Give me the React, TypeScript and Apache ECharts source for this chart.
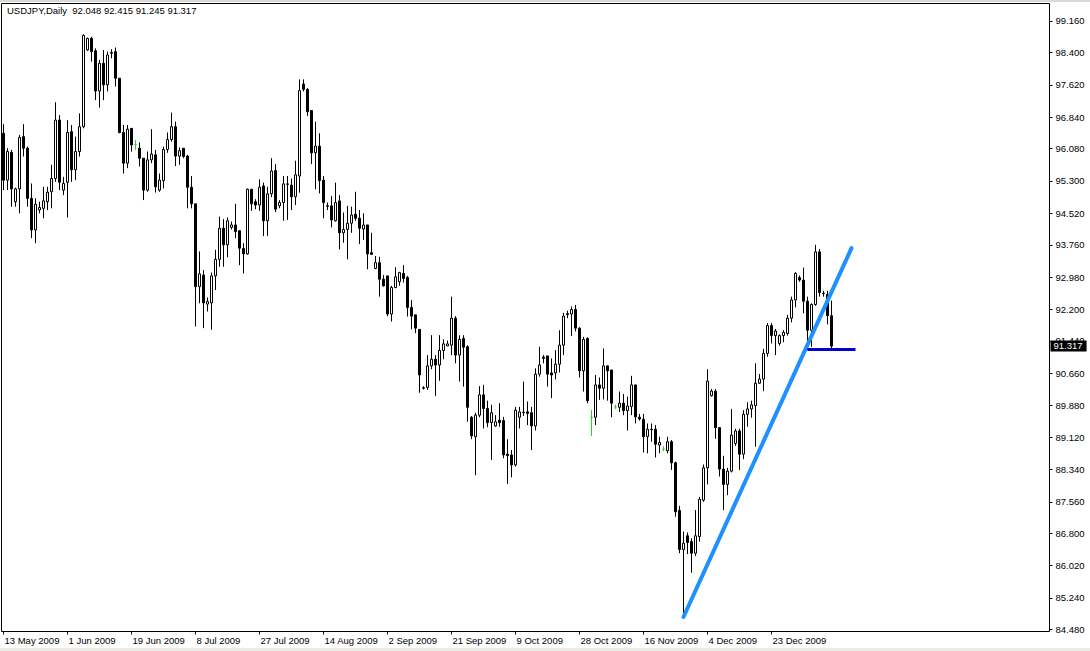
import React, { useEffect, useRef } from "react";
import * as echarts from "echarts";

const symbol = "USDJPY";
const period = "Daily";
const firstDate = "2009-05-13";
const totalSlots = 262;
const labelEvery = 16;

const opens = [
  96.45, 95.32, 95.99, 94.80, 95.11, 96.37, 96.09, 94.88, 94.12, 94.60,
  94.64, 94.80, 95.04, 95.36, 96.77, 95.08, 95.27, 96.49, 95.57, 96.01,
  96.61, 98.46, 98.74, 98.44, 97.47, 98.14, 97.62, 98.38, 98.42, 97.78,
  96.47, 95.73, 96.57, 96.18, 96.09, 95.85, 95.08, 95.81, 95.93, 95.08,
  95.31, 96.06, 96.30, 96.61, 95.90, 96.09, 95.90, 95.15, 94.75, 92.75,
  93.03, 92.33, 92.36, 93.01, 93.41, 94.16, 93.76, 94.18, 94.24, 94.10,
  93.67, 93.54, 95.10, 94.80, 94.72, 95.18, 94.34, 94.99, 95.55, 94.70,
  94.78, 95.23, 95.20, 94.92, 95.42, 97.64, 97.51, 97.00, 95.98, 96.14,
  95.32, 94.70, 94.70, 94.34, 94.82, 94.05, 94.13, 94.28, 94.50, 94.40,
  94.14, 94.24, 93.57, 93.19, 93.33, 92.93, 93.01, 92.09, 92.73, 92.87,
  93.07, 92.97, 92.25, 92.07, 91.72, 90.31, 90.32, 90.84, 91.00, 90.86,
  91.21, 91.32, 91.34, 91.99, 91.10, 91.50, 91.30, 89.60, 89.13, 89.65,
  90.14, 89.81, 89.47, 89.39, 89.53, 89.52, 88.71, 88.69, 88.45, 89.60,
  89.71, 89.73, 89.71, 89.39, 90.64, 91.05, 91.08, 90.67, 90.67, 90.88,
  91.34, 92.10, 92.09, 92.20, 91.75, 90.72, 91.50, 89.60, 89.60, 90.38,
  90.30, 90.84, 90.74, 89.85, 89.84, 89.94, 89.76, 89.86, 90.38, 89.60,
  89.55, 89.13, 89.31, 89.31, 88.93, 88.83, 88.79, 89.01, 88.50, 87.35,
  86.41, 86.74, 86.60, 86.32, 86.72, 87.60, 88.38, 90.12, 90.23, 89.35,
  88.35, 87.98, 88.30, 88.97, 89.27, 88.71, 89.67, 89.80, 89.88, 90.42,
  90.52, 91.14, 91.81, 91.57, 91.38, 91.57, 91.62, 91.99, 92.43, 92.97,
  92.91, 92.40, 91.70, 92.32, 93.59, 92.59, 92.56, 92.048,
];
const highs = [
  96.67, 96.09, 96.05, 95.14, 96.41, 96.67, 96.13, 95.24, 94.88, 94.80,
  95.16, 95.16, 95.69, 97.20, 96.89, 95.40, 96.77, 96.65, 96.37, 96.93,
  98.84, 98.76, 98.78, 98.50, 98.22, 98.46, 98.42, 98.48, 98.52, 97.78,
  96.65, 96.65, 96.57, 96.29, 96.23, 95.85, 96.01, 96.55, 96.05, 95.48,
  96.13, 96.47, 96.95, 96.73, 96.11, 96.09, 95.93, 95.42, 94.75, 93.60,
  93.15, 92.49, 93.09, 93.64, 94.44, 94.38, 94.42, 94.32, 94.75, 94.10,
  93.80, 95.12, 95.10, 94.86, 95.34, 95.26, 95.16, 95.85, 95.71, 94.84,
  95.42, 95.42, 95.36, 95.79, 97.75, 97.75, 97.54, 97.01, 96.73, 96.45,
  95.42, 94.78, 94.94, 95.26, 94.96, 94.54, 94.70, 94.68, 95.04, 94.60,
  94.52, 94.24, 94.05, 93.49, 93.47, 93.03, 93.01, 92.77, 93.22, 93.11,
  93.27, 93.01, 92.43, 92.07, 91.72, 90.35, 91.10, 91.58, 91.10, 91.58,
  91.48, 91.45, 92.51, 92.04, 91.58, 91.58, 91.34, 89.63, 89.71, 90.35,
  90.38, 90.00, 89.90, 89.65, 89.94, 89.61, 89.07, 88.81, 89.85, 89.85,
  90.46, 89.98, 89.85, 90.78, 91.30, 91.10, 91.08, 91.02, 91.22, 91.70,
  92.12, 92.17, 92.27, 92.31, 91.77, 91.54, 91.53, 89.78, 90.62, 90.56,
  91.26, 90.84, 90.74, 89.90, 90.22, 90.16, 90.10, 90.60, 90.38, 89.68,
  89.68, 89.45, 89.45, 89.41, 89.13, 88.90, 89.13, 89.05, 88.53, 87.46,
  86.84, 86.82, 86.68, 87.36, 87.68, 88.46, 90.76, 90.28, 90.28, 89.35,
  88.67, 88.38, 89.80, 89.32, 89.32, 89.77, 89.96, 90.00, 90.90, 90.64,
  91.25, 91.87, 91.87, 91.73, 91.60, 91.70, 92.07, 92.51, 93.10, 93.02,
  93.21, 92.51, 92.35, 93.76, 93.66, 92.65, 92.65, 92.415,
];
const lows = [
  95.08, 95.08, 94.68, 94.68, 94.52, 95.89, 94.68, 93.92, 93.80, 94.52,
  94.40, 94.60, 94.64, 95.28, 95.08, 94.96, 94.42, 95.28, 95.32, 95.89,
  96.57, 98.44, 98.18, 97.25, 97.07, 97.25, 97.46, 98.26, 97.58, 96.45,
  95.48, 95.61, 96.01, 96.05, 95.65, 94.84, 95.04, 95.73, 95.02, 95.04,
  95.12, 95.98, 96.25, 95.66, 95.69, 95.85, 94.64, 94.64, 91.79, 92.35,
  91.75, 92.15, 91.71, 92.67, 93.23, 93.23, 93.46, 94.13, 93.92, 93.27,
  93.07, 93.52, 94.58, 94.62, 94.58, 93.97, 93.97, 94.91, 94.55, 94.64,
  94.34, 94.36, 94.60, 94.72, 95.02, 97.46, 96.87, 95.71, 95.10, 95.00,
  94.40, 94.60, 94.18, 94.32, 93.65, 93.81, 93.41, 94.05, 94.34, 93.78,
  93.88, 93.17, 93.52, 93.17, 92.51, 92.75, 92.04, 91.91, 92.71, 92.77,
  92.85, 92.03, 91.72, 91.63, 90.19, 90.27, 90.26, 90.76, 90.11, 90.48,
  91.00, 91.32, 91.10, 90.90, 90.46, 90.34, 89.49, 89.07, 88.20, 89.60,
  89.33, 89.36, 88.57, 89.37, 89.37, 88.61, 87.99, 88.15, 88.41, 89.33,
  89.63, 89.41, 88.81, 89.28, 90.58, 90.90, 90.34, 90.06, 90.51, 90.68,
  91.10, 91.99, 91.56, 91.67, 90.56, 90.22, 89.94, 89.15, 89.41, 90.02,
  90.03, 90.00, 89.60, 89.80, 89.73, 89.65, 89.28, 89.65, 89.45, 89.52,
  88.75, 88.73, 89.01, 88.63, 88.73, 88.78, 88.73, 88.33, 87.20, 86.32,
  84.79, 86.30, 85.85, 86.25, 86.60, 87.56, 87.98, 90.10, 89.08, 88.17,
  87.36, 87.72, 88.27, 88.91, 88.33, 88.59, 89.37, 89.59, 88.89, 90.40,
  90.23, 91.06, 91.38, 91.10, 91.33, 91.41, 91.57, 91.89, 92.25, 92.87,
  92.11, 91.22, 91.30, 92.29, 92.51, 92.51, 91.84, 91.245,
];
const closes = [
  95.32, 96.01, 95.11, 95.11, 96.35, 96.09, 94.88, 94.12, 94.74, 94.66,
  94.82, 95.03, 95.36, 96.77, 95.27, 95.24, 96.47, 95.57, 96.01, 96.61,
  98.81, 98.74, 98.42, 97.47, 98.14, 97.62, 98.34, 98.40, 97.78, 96.47,
  95.73, 96.55, 96.17, 96.18, 95.85, 95.08, 95.81, 95.95, 95.16, 95.32,
  96.06, 96.30, 96.61, 95.90, 96.03, 95.89, 95.15, 94.75, 92.75, 93.06,
  92.36, 92.39, 93.01, 93.41, 94.16, 93.76, 94.34, 94.24, 94.08, 93.68,
  93.54, 95.10, 94.75, 94.72, 95.15, 94.34, 94.99, 95.54, 94.62, 94.78,
  95.23, 95.22, 94.92, 95.45, 97.48, 97.51, 96.97, 95.98, 96.14, 95.31,
  94.78, 94.69, 94.36, 94.78, 94.05, 94.13, 94.28, 94.48, 94.40, 94.16,
  94.24, 93.54, 93.53, 93.33, 92.93, 92.77, 92.09, 92.73, 92.99, 93.09,
  92.95, 92.25, 92.04, 91.75, 90.62, 90.30, 90.84, 91.00, 90.86, 91.21,
  91.37, 91.37, 91.99, 91.10, 91.48, 91.29, 89.84, 89.15, 89.65, 90.14,
  89.81, 89.47, 89.71, 89.49, 89.47, 88.69, 88.67, 88.45, 89.77, 89.73,
  89.72, 89.69, 89.39, 90.64, 90.86, 91.02, 90.64, 90.62, 90.88, 91.34,
  92.04, 92.08, 92.20, 91.75, 90.72, 91.48, 90.00, 89.60, 90.38, 90.30,
  90.84, 90.72, 89.94, 89.85, 89.94, 89.76, 89.87, 90.38, 89.61, 89.56,
  89.13, 89.31, 89.30, 88.95, 88.99, 88.83, 89.01, 88.50, 87.32, 86.41,
  86.56, 86.58, 86.32, 86.74, 87.62, 88.38, 90.47, 90.23, 89.35, 88.35,
  87.98, 88.30, 89.17, 89.27, 88.71, 89.67, 89.80, 89.90, 90.42, 90.52,
  91.14, 91.81, 91.57, 91.68, 91.57, 91.65, 91.99, 92.43, 93.07, 92.91,
  92.40, 91.70, 92.32, 93.59, 92.61, 92.58, 92.05, 91.317,
];

const yTickValues = [
  84.48, 85.24, 86.02, 86.8, 87.56, 88.34, 89.12, 89.88, 90.66, 91.44,
  92.2, 92.98, 93.76, 94.52, 95.3, 96.08, 96.84, 97.62, 98.4, 99.16,
];
const yMin = 84.431;
const yMax = 99.582;

// user-drawn objects: [bar index, price]
const trendLine = [
  [170, 84.78],
  [212, 93.68],
];
const supportLine = [
  [201, 91.24],
  [213, 91.24],
];

const MONTHS = ["Jan", "Feb", "Mar", "Apr", "May", "Jun", "Jul", "Aug", "Sep", "Oct", "Nov", "Dec"];
const FONT = "Tahoma, 'Liberation Sans', Arial, sans-serif";
const DOJI_COLOR = "#33cc33";

function buildDates(start: string, n: number): string[] {
  const out: string[] = [];
  const d = new Date(start + "T00:00:00Z");
  while (out.length < n) {
    if (d.getUTCDay() !== 6) {
      out.push(`${d.getUTCDate()} ${MONTHS[d.getUTCMonth()]} ${d.getUTCFullYear()}`);
    }
    d.setUTCDate(d.getUTCDate() + 1);
  }
  return out;
}

export default function App() {
  const ref = useRef<HTMLDivElement>(null);

  useEffect(() => {
    if (!ref.current) return;
    document.body.style.margin = "0";
    const chart = echarts.init(ref.current, undefined, { renderer: "svg" });
    const categories = buildDates(firstDate, totalSlots);
    const n = opens.length;
    const last = n - 1;
    const data = opens.map((o, i) => {
      const v = [o, closes[i], lows[i], highs[i]];
      if (o === closes[i]) {
        return {
          value: v,
          itemStyle: {
            color: DOJI_COLOR,
            color0: DOJI_COLOR,
            borderColor: DOJI_COLOR,
            borderColor0: DOJI_COLOR,
            borderColorDoji: DOJI_COLOR,
          },
        };
      }
      return v;
    });
    const showIdx = (index: number) => index % labelEvery === 0 && index < n;
    const header = `${symbol},${period}\u00a0\u00a0${opens[last].toFixed(3)} ${highs[last].toFixed(3)} ${lows[last].toFixed(3)} ${closes[last].toFixed(3)}`;

    chart.setOption({
      animation: false,
      backgroundColor: "#ffffff",
      title: {
        text: header,
        left: 7,
        top: 5,
        padding: 0,
        textStyle: { fontFamily: FONT, fontSize: 9.5, fontWeight: "normal", color: "#000" },
      },
      grid: {
        left: 1.5,
        top: 3.5,
        width: 1048,
        height: 628,
        show: true,
        borderColor: "#000",
        borderWidth: 1,
        backgroundColor: "#fff",
      },
      xAxis: {
        type: "category",
        data: categories,
        boundaryGap: true,
        axisLine: { show: false },
        axisTick: {
          show: true,
          interval: showIdx,
          alignWithLabel: true,
          length: 3,
          lineStyle: { color: "#000", width: 1 },
        },
        axisLabel: {
          interval: showIdx,
          align: "left",
          margin: 4,
          padding: [0, 0, 0, 1],
          fontFamily: FONT,
          fontSize: 9.5,
          color: "#000",
        },
        splitLine: { show: false },
      },
      yAxis: {
        type: "value",
        position: "right",
        min: yMin,
        max: yMax,
        scale: true,
        axisLine: { show: false },
        axisTick: {
          show: true,
          customValues: yTickValues,
          length: 3,
          lineStyle: { color: "#000", width: 1 },
        },
        axisLabel: {
          customValues: yTickValues,
          formatter: (v: number) => v.toFixed(3),
          margin: 6,
          fontFamily: FONT,
          fontSize: 9.5,
          color: "#000",
        },
        splitLine: { show: false },
      },
      graphic: [
        { type: "rect", left: 0, top: 0, shape: { width: 1090, height: 2 }, style: { fill: "#d8d8d4" }, silent: true },
        { type: "rect", left: 0, top: 648, shape: { width: 1090, height: 3 }, style: { fill: "#ecebe6" }, silent: true },
      ],
      series: [
        {
          type: "candlestick",
          data,
          barWidth: 2,
          itemStyle: {
            color: "#ffffff",
            color0: "#000000",
            borderColor: "#000000",
            borderColor0: "#000000",
            borderColorDoji: DOJI_COLOR,
            borderWidth: 1,
          },
          markLine: {
            silent: true,
            symbol: ["none", "none"],
            label: { show: false },
            data: [
              [
                { coord: trendLine[0], lineStyle: { color: "#1e90ff", width: 4, type: "solid", cap: "round" } },
                { coord: trendLine[1] },
              ],
              [
                { coord: supportLine[0], lineStyle: { color: "#0000cd", width: 3, type: "solid" } },
                { coord: supportLine[1] },
              ],
              {
                yAxis: closes[last],
                lineStyle: { color: "rgba(0,0,0,0)", width: 0 },
                label: {
                  show: true,
                  position: "end",
                  distance: 1,
                  formatter: closes[last].toFixed(3),
                  backgroundColor: "#000",
                  color: "#fff",
                  padding: [1, 4, 0, 3],
                  fontFamily: FONT,
                  fontSize: 9.5,
                },
              },
            ],
          },
        },
      ],
    });
    return () => chart.dispose();
  }, []);

  return (
    <div
      ref={ref}
      style={{ position: "fixed", left: 0, top: 0, width: 1090, height: 651, background: "#fff" }}
    />
  );
}
